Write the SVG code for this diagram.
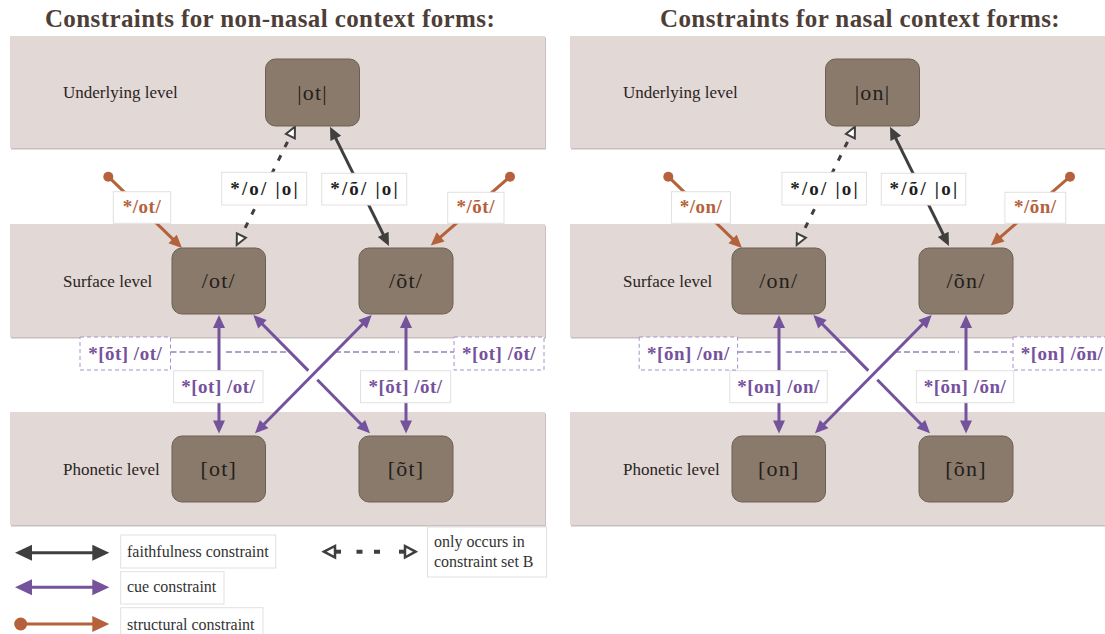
<svg xmlns="http://www.w3.org/2000/svg" width="1105" height="634" viewBox="0 0 1105 634">
  <defs>
    <style>
      .title{font-family:"Liberation Serif",serif;font-weight:bold;font-size:25px;letter-spacing:0.4px;fill:#4e3e38;text-anchor:middle}
      .band{fill:#e2d8d6}
      .band-sh{fill:#c7c0bf}
      .level{font-family:"Liberation Serif",serif;font-size:17px;fill:#2a2422}
      .node rect{fill:#8a7a6b;stroke:#6d5f52;stroke-width:1}
      .node text{font-family:"Liberation Serif",serif;font-size:22px;letter-spacing:1.2px;fill:#241e1b;text-anchor:middle}
      .faith{fill:none;stroke:#3f3f3f;stroke-width:3}
      .faith-b{fill:none;stroke:#3f3f3f;stroke-width:3;stroke-dasharray:6 9}
      .cue{fill:none;stroke:#74529c;stroke-width:3}
      .struct{fill:none;stroke:#b5613b;stroke-width:3}
      .hint{fill:none;stroke:#9b80ba;stroke-width:1.3;stroke-dasharray:6 3}
      .lbl rect{fill:#fff;stroke:#e3dfdf;stroke-width:1}
      .lbl text{font-family:"Liberation Serif",serif;font-weight:bold;font-size:19px;letter-spacing:0.5px;text-anchor:middle}
      .lbl.dark text{fill:#1f1f1f}
      .lbl.orange text{fill:#b5613b}
      .lbl.purple text{fill:#76529c}
      .lbl.dashed rect{stroke:#a890c4;stroke-dasharray:4 3}
      .key rect{fill:#fff;stroke:#e3dfdf;stroke-width:1}
      .key text{font-family:"Liberation Serif",serif;font-size:16px;fill:#333}
    </style>
    <!-- arrowheads: tip sits 4px beyond the path end -->
    <marker id="hDark" markerUnits="userSpaceOnUse" markerWidth="14" markerHeight="12" refX="9" refY="6" orient="auto-start-reverse" overflow="visible">
      <path d="M0,0 L13,6 L0,12 z" fill="#3f3f3f"/>
    </marker>
    <marker id="hPurple" markerUnits="userSpaceOnUse" markerWidth="14" markerHeight="12" refX="9" refY="6" orient="auto-start-reverse" overflow="visible">
      <path d="M0,0 L13,6 L0,12 z" fill="#74529c"/>
    </marker>
    <marker id="hOrange" markerUnits="userSpaceOnUse" markerWidth="14" markerHeight="12" refX="9" refY="6" orient="auto-start-reverse" overflow="visible">
      <path d="M0,0 L13,6 L0,12 z" fill="#b5613b"/>
    </marker>
    <marker id="hOpen" markerUnits="userSpaceOnUse" markerWidth="14" markerHeight="12" refX="8" refY="6" orient="auto-start-reverse" overflow="visible">
      <path d="M1.5,1 L12,6 L1.5,11 z" fill="#fff" stroke="#3f3f3f" stroke-width="2"/>
    </marker>
    <marker id="pin" markerUnits="userSpaceOnUse" markerWidth="12" markerHeight="12" refX="6" refY="6" overflow="visible">
      <circle cx="6" cy="6" r="5" fill="#b5613b"/>
    </marker>
    <!-- larger heads for the key -->
    <marker id="kDark" markerUnits="userSpaceOnUse" markerWidth="18" markerHeight="16" refX="12" refY="8" orient="auto-start-reverse" overflow="visible">
      <path d="M0,0 L17,8 L0,16 z" fill="#3f3f3f"/>
    </marker>
    <marker id="kPurple" markerUnits="userSpaceOnUse" markerWidth="18" markerHeight="16" refX="12" refY="8" orient="auto-start-reverse" overflow="visible">
      <path d="M0,0 L17,8 L0,16 z" fill="#74529c"/>
    </marker>
    <marker id="kOrange" markerUnits="userSpaceOnUse" markerWidth="18" markerHeight="16" refX="12" refY="8" orient="auto-start-reverse" overflow="visible">
      <path d="M0,0 L17,8 L0,16 z" fill="#b5613b"/>
    </marker>
    <marker id="kPin" markerUnits="userSpaceOnUse" markerWidth="14" markerHeight="14" refX="7" refY="7" overflow="visible">
      <circle cx="7" cy="7" r="6.5" fill="#b5613b"/>
    </marker>
  </defs>

  <rect width="1105" height="634" fill="#fff"/>

  <!-- ===== left panel: non-nasal context ===== -->
  <text class="title" x="270" y="27">Constraints for non-nasal context forms:</text>
  <g id="bands-left">
    <rect class="band-sh" x="11" y="37.5" width="535" height="112"/>
    <rect class="band" x="10" y="36" width="535" height="112"/>
    <rect class="band-sh" x="11" y="225.5" width="535" height="113"/>
    <rect class="band" x="10" y="224" width="535" height="113"/>
    <rect class="band-sh" x="11" y="413.5" width="535" height="113"/>
    <rect class="band" x="10" y="412" width="535" height="113"/>
    <text class="level" x="63" y="98">Underlying level</text>
    <text class="level" x="63" y="287">Surface level</text>
    <text class="level" x="63" y="475">Phonetic level</text>
  </g>

  <g id="connectors-left">
    <path class="faith" d="M331.8,130.3 L387.2,242.4" marker-start="url(#hDark)" marker-end="url(#hDark)"/>
    <path class="faith-b" d="M238.5,241.4 L293.2,130.3" marker-start="url(#hOpen)" marker-end="url(#hOpen)"/>
    <path class="struct" d="M108.3,176.7 L179.1,245.2" marker-start="url(#pin)" marker-end="url(#hOrange)"/>
    <path class="struct" d="M510,176.7 L433.8,242.8" marker-start="url(#pin)" marker-end="url(#hOrange)"/>
    <path class="hint" d="M170.5,352 H211 M226,352 H287"/>
    <path class="hint" d="M335,352 H399 M414,352 H454"/>
    <path class="cue" d="M219,319 V429.5" marker-start="url(#hPurple)" marker-end="url(#hPurple)"/>
    <path class="cue" d="M406,319 V429.5" marker-start="url(#hPurple)" marker-end="url(#hPurple)"/>
    <path class="cue" d="M368.9,317.8 L257.8,430.5" marker-start="url(#hPurple)" marker-end="url(#hPurple)"/>
    <path class="cue" d="M256.1,317.8 L308.3,370.6" marker-start="url(#hPurple)"/>
    <path class="cue" d="M317.3,379.8 L367.2,430.5" marker-end="url(#hPurple)"/>

    <g class="lbl dark"><rect x="221.7" y="172.3" width="85" height="32.7"/><text x="264.2" y="195" textLength="68">*/o/ |o|</text></g>
    <g class="lbl dark"><rect x="321.7" y="173.3" width="85" height="31.7"/><text x="364.2" y="195" textLength="68">*/õ/ |o|</text></g>
    <g class="lbl orange"><rect x="113.3" y="191.7" width="57.4" height="31.6"/><text x="142" y="213">*/ot/</text></g>
    <g class="lbl orange"><rect x="447.7" y="192.3" width="56.3" height="31"/><text x="475.8" y="213">*/õt/</text></g>
    <g class="lbl purple"><rect x="173.6" y="370.7" width="89.4" height="32"/><text x="218.3" y="393">*[ot] /ot/</text></g>
    <g class="lbl purple"><rect x="360.5" y="370.7" width="90.2" height="32"/><text x="405.6" y="393">*[õt] /õt/</text></g>
    <g class="lbl purple dashed"><rect x="80" y="337" width="90.5" height="33"/><text x="125.2" y="360">*[õt] /ot/</text></g>
    <g class="lbl purple dashed"><rect x="454" y="337" width="90" height="33"/><text x="499" y="360">*[ot] /õt/</text></g>
  </g>

  <g id="underlying-ot" class="node"><rect x="265.5" y="59" width="94" height="67" rx="10"/><text x="312.5" y="100">|ot|</text></g>
  <g id="surface-ot" class="node"><rect x="172" y="248" width="93.5" height="66" rx="10"/><text x="218.8" y="288">/ot/</text></g>
  <g id="surface-ot-nasal" class="node"><rect x="359" y="248" width="94" height="66" rx="10"/><text x="406" y="288">/õt/</text></g>
  <g id="phonetic-ot" class="node"><rect x="172" y="436" width="93.5" height="66" rx="10"/><text x="218.8" y="476">[ot]</text></g>
  <g id="phonetic-ot-nasal" class="node"><rect x="359" y="436" width="94" height="66" rx="10"/><text x="406" y="476">[õt]</text></g>

  <!-- ===== right panel: nasal context ===== -->
  <text class="title" x="860" y="27">Constraints for nasal context forms:</text>
  <g transform="translate(560 0)">
    <g id="bands-right">
      <rect class="band-sh" x="11" y="37.5" width="535" height="112"/>
      <rect class="band" x="10" y="36" width="535" height="112"/>
      <rect class="band-sh" x="11" y="225.5" width="535" height="113"/>
      <rect class="band" x="10" y="224" width="535" height="113"/>
      <rect class="band-sh" x="11" y="413.5" width="535" height="113"/>
      <rect class="band" x="10" y="412" width="535" height="113"/>
      <text class="level" x="63" y="98">Underlying level</text>
      <text class="level" x="63" y="287">Surface level</text>
      <text class="level" x="63" y="475">Phonetic level</text>
    </g>

    <g id="connectors-right">
      <path class="faith" d="M331.8,130.3 L387.2,242.4" marker-start="url(#hDark)" marker-end="url(#hDark)"/>
      <path class="faith-b" d="M238.5,241.4 L293.2,130.3" marker-start="url(#hOpen)" marker-end="url(#hOpen)"/>
      <path class="struct" d="M108.3,176.7 L179.1,245.2" marker-start="url(#pin)" marker-end="url(#hOrange)"/>
      <path class="struct" d="M510,176.7 L433.8,242.8" marker-start="url(#pin)" marker-end="url(#hOrange)"/>
      <path class="hint" d="M177.6,352 H211 M226,352 H287"/>
      <path class="hint" d="M335,352 H399 M414,352 H453"/>
      <path class="cue" d="M219,319 V429.5" marker-start="url(#hPurple)" marker-end="url(#hPurple)"/>
      <path class="cue" d="M406,319 V429.5" marker-start="url(#hPurple)" marker-end="url(#hPurple)"/>
      <path class="cue" d="M368.9,317.8 L257.8,430.5" marker-start="url(#hPurple)" marker-end="url(#hPurple)"/>
      <path class="cue" d="M256.1,317.8 L308.3,370.6" marker-start="url(#hPurple)"/>
      <path class="cue" d="M317.3,379.8 L367.2,430.5" marker-end="url(#hPurple)"/>

      <g class="lbl dark"><rect x="221.9" y="172.3" width="84.5" height="32.7"/><text x="264.2" y="195" textLength="68">*/o/ |o|</text></g>
      <g class="lbl dark"><rect x="321.3" y="173.3" width="84.5" height="31.7"/><text x="363.6" y="195" textLength="68">*/õ/ |o|</text></g>
      <g class="lbl orange"><rect x="111.4" y="191.7" width="59" height="31.6"/><text x="141" y="213">*/on/</text></g>
      <g class="lbl orange"><rect x="444.9" y="192.3" width="60.8" height="31"/><text x="475.3" y="213">*/õn/</text></g>
      <g class="lbl purple"><rect x="169.8" y="370.7" width="97.4" height="32"/><text x="218.5" y="393">*[on] /on/</text></g>
      <g class="lbl purple"><rect x="356.4" y="370.7" width="97.3" height="32"/><text x="405" y="393">*[õn] /õn/</text></g>
      <g class="lbl purple dashed"><rect x="79.2" y="337" width="98.4" height="33"/><text x="128.4" y="360">*[õn] /on/</text></g>
      <g class="lbl purple dashed"><rect x="453" y="337" width="98" height="33"/><text x="502" y="360">*[on] /õn/</text></g>
    </g>

    <g id="underlying-on" class="node"><rect x="265.5" y="59" width="94" height="67" rx="10"/><text x="312.5" y="100">|on|</text></g>
    <g id="surface-on" class="node"><rect x="172" y="248" width="93.5" height="66" rx="10"/><text x="218.8" y="288">/on/</text></g>
    <g id="surface-on-nasal" class="node"><rect x="359" y="248" width="94" height="66" rx="10"/><text x="406" y="288">/õn/</text></g>
    <g id="phonetic-on" class="node"><rect x="172" y="436" width="93.5" height="66" rx="10"/><text x="218.8" y="476">[on]</text></g>
    <g id="phonetic-on-nasal" class="node"><rect x="359" y="436" width="94" height="66" rx="10"/><text x="406" y="476">[õn]</text></g>
  </g>

  <!-- ===== key ===== -->
  <g id="key" class="key">
    <path class="faith" d="M20,552.7 H104.3" stroke-width="4.5" marker-start="url(#kDark)" marker-end="url(#kDark)"/>
    <rect x="120.7" y="535" width="155" height="33"/>
    <text x="127" y="557">faithfulness constraint</text>

    <path class="cue" d="M20,587.3 H104.3" stroke-width="4.5" marker-start="url(#kPurple)" marker-end="url(#kPurple)"/>
    <rect x="120.7" y="571.7" width="103.3" height="32.3"/>
    <text x="127" y="592">cue constraint</text>

    <path class="struct" d="M20.7,624 H104.3" stroke-width="4.5" marker-start="url(#kPin)" marker-end="url(#kOrange)"/>
    <rect x="120.7" y="607.7" width="142.3" height="40"/>
    <text x="127" y="630">structural constraint</text>

    <g fill="#fff" stroke="#3f3f3f" stroke-width="2.5">
      <path d="M335,551.7 H341" fill="none" stroke-width="4"/>
      <path d="M324,551.7 L335,546 L335,557.5 z"/>
      <path d="M356.5,551.7 H362.5 M374,551.7 H380" fill="none" stroke-width="4"/>
      <path d="M399,551.7 H405" fill="none" stroke-width="4"/>
      <path d="M415.5,551.7 L405,546 L405,557.5 z"/>
    </g>
    <rect x="427.5" y="527" width="119" height="50"/>
    <text x="434" y="546.7">only occurs in</text>
    <text x="434" y="566.7">constraint set B</text>
  </g>
</svg>
